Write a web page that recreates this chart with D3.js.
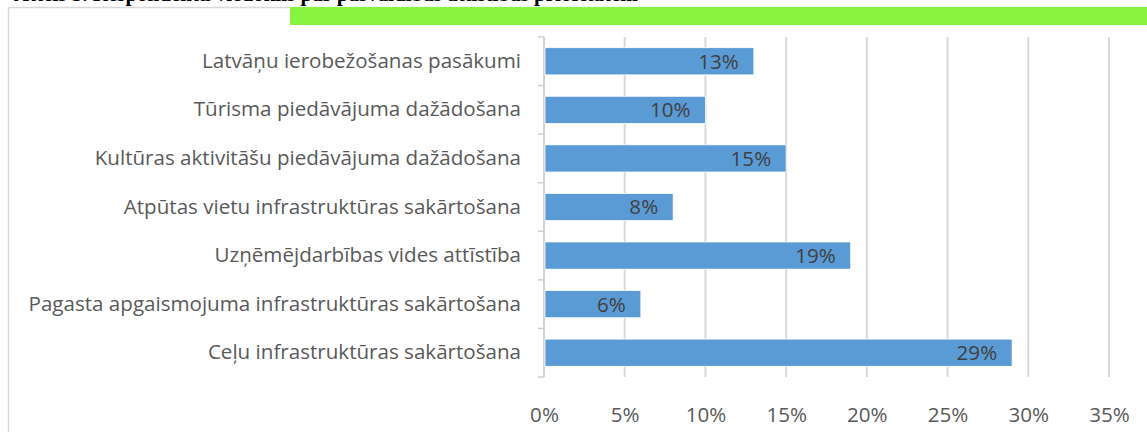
<!DOCTYPE html>
<html>
<head>
<meta charset="utf-8">
<script src="https://cdn.jsdelivr.net/npm/d3@7"></script>
<style>
  html, body { margin: 0; padding: 0; background: #fff; overflow: hidden; }
  svg { display: block; }
</style>
</head>
<body>
<svg id="chart" width="1147" height="432"></svg>
<script>
// ---- data ----
const categories = [
  "Latvāņu ierobežošanas pasākumi",
  "Tūrisma piedāvājuma dažādošana",
  "Kultūras aktivitāšu piedāvājuma dažādošana",
  "Atpūtas vietu infrastruktūras sakārtošana",
  "Uzņēmējdarbības vides attīstība",
  "Pagasta apgaismojuma infrastruktūras sakārtošana",
  "Ceļu infrastruktūras sakārtošana"
];
const values = [0.13, 0.10, 0.15, 0.08, 0.19, 0.06, 0.29];
const xTicks = [0, 0.05, 0.10, 0.15, 0.20, 0.25, 0.30, 0.35];
const captionText = "Attēls 5. Respondentu viedoklis par pašvaldības attīstības prioritātēm";

// ---- layout ----
const svg = d3.select("#chart");
const W = 1147, H = 432;
const plot = { left: 544, right: 1109, top: 37, bottom: 377 };
const font = "'Open Sans', 'Noto Sans', sans-serif";

// caption (clipped at the top of the picture, as in the original)
svg.append("text")
  .attr("x", 14).attr("y", 0.5)
  .attr("font-family", "'Liberation Serif', 'Times New Roman', serif")
  .attr("font-weight", "bold")
  .attr("font-size", 21)
  .attr("fill", "#000")
  .text(captionText);

// chart border
svg.append("rect")
  .attr("x", 8.5).attr("y", 7.5)
  .attr("width", W + 20).attr("height", H + 20)
  .attr("fill", "none").attr("stroke", "#d9d9d9").attr("stroke-width", 1.5);

// green highlight band
svg.append("rect")
  .attr("x", 290).attr("y", 7)
  .attr("width", W - 290).attr("height", 18)
  .attr("fill", "#88f43f");

const x = d3.scaleLinear().domain([0, 0.35]).range([plot.left, plot.right]);
const y = d3.scaleBand().domain(categories).range([plot.top, plot.bottom])
  .paddingInner(0.44).paddingOuter(0.22);

// font size fitted so the longest label spans like the original
const probe = svg.append("text").attr("font-family", font).attr("font-size", 20)
  .text(categories[5]);
const w20 = probe.node().getComputedTextLength();
probe.remove();
const fs = Math.min(22, 20 * 493 / w20);

// gridlines
svg.append("g").selectAll("line").data(xTicks.slice(1)).join("line")
  .attr("x1", d => x(d)).attr("x2", d => x(d))
  .attr("y1", plot.top).attr("y2", plot.bottom)
  .attr("stroke", "#d9d9d9").attr("stroke-width", 2);

// x axis tick labels
const xAxis = d3.axisBottom(x).tickValues(xTicks).tickFormat(d3.format(".0%")).tickSize(0).tickPadding(0);
const gx = svg.append("g").attr("transform", `translate(0, ${plot.bottom + 25})`).call(xAxis);
gx.select(".domain").remove();
gx.selectAll("text")
  .attr("font-family", font).attr("font-size", fs).attr("fill", "#595959")
  .attr("dy", "0.95em");

// y axis (vertical line with outward ticks at band boundaries)
const yAxis = svg.append("g");
yAxis.append("line")
  .attr("x1", plot.left).attr("x2", plot.left)
  .attr("y1", plot.top).attr("y2", plot.bottom)
  .attr("stroke", "#d0d0d0").attr("stroke-width", 2);
const bounds = d3.range(categories.length + 1).map(i => plot.top + i * y.step());
yAxis.selectAll("line.tk").data(bounds).join("line").attr("class", "tk")
  .attr("x1", plot.left - 6).attr("x2", plot.left)
  .attr("y1", d => d).attr("y2", d => d)
  .attr("stroke", "#d0d0d0").attr("stroke-width", 1.5);
const yAx = d3.axisLeft(y).tickSize(0).tickPadding(23);
const gy = svg.append("g").attr("transform", `translate(${plot.left},0)`).call(yAx);
gy.select(".domain").remove();
gy.selectAll("text")
  .attr("font-family", font).attr("font-size", fs).attr("fill", "#595959");

// bars
svg.append("g").selectAll("rect").data(values).join("rect")
  .attr("x", x(0) + 1)
  .attr("y", (d, i) => y(categories[i]))
  .attr("width", d => x(d) - x(0) - 1)
  .attr("height", y.bandwidth())
  .attr("fill", "#5b9bd5")
  .attr("stroke", "#ffffff").attr("stroke-width", 0.8);

// data labels (inside end)
svg.append("g").selectAll("text").data(values).join("text")
  .attr("x", d => x(d) - 15)
  .attr("y", (d, i) => y(categories[i]) + y.bandwidth() / 2)
  .attr("dy", "0.36em")
  .attr("text-anchor", "end")
  .attr("font-family", font).attr("font-size", fs).attr("fill", "#404040")
  .text(d => d3.format(".0%")(d));
</script>
</body>
</html>
